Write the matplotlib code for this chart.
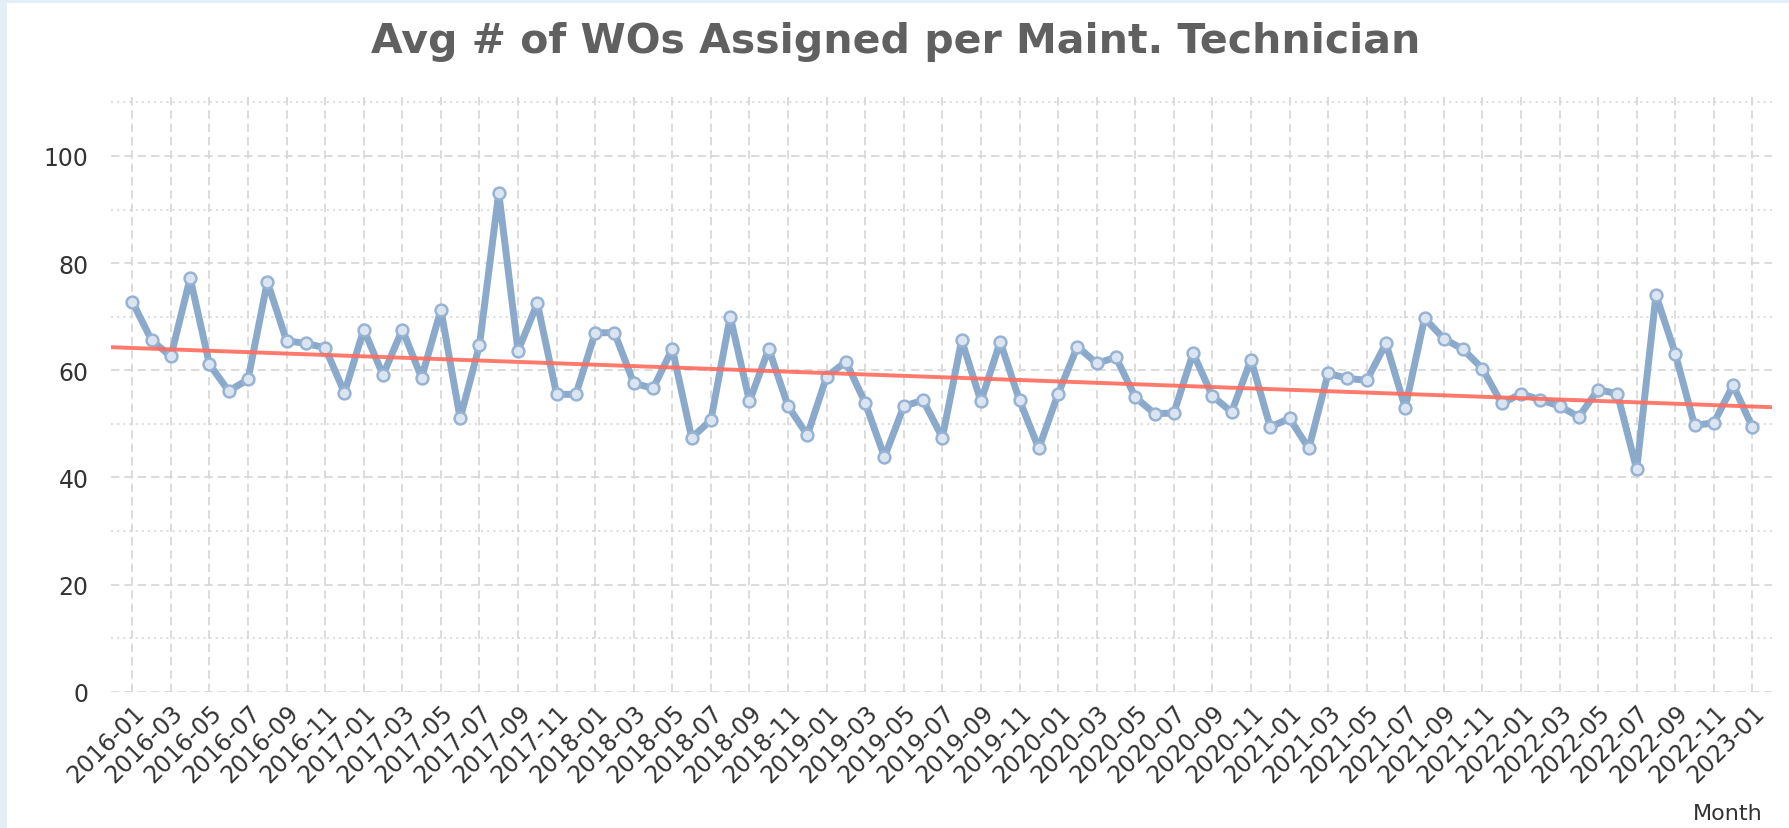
import numpy as np
import pandas as pd
import matplotlib
matplotlib.use("Agg")
import matplotlib.pyplot as plt
from matplotlib.patches import Rectangle

# data (monthly, 2016-01 .. 2023-01)
months = pd.period_range("2016-01", "2023-01", freq="M").strftime("%Y-%m").tolist()
avg_wos = [72.8, 65.6, 62.6, 77.2, 61.1, 56.1, 58.3, 76.5, 65.5, 65.0,
           64.2, 55.8, 67.6, 59.1, 67.6, 58.6, 71.3, 51.0, 64.7, 93.1,
           63.6, 72.5, 55.5, 55.5, 67.0, 67.0, 57.6, 56.6, 64.0, 47.4,
           50.7, 70.0, 54.2, 64.0, 53.3, 47.9, 58.8, 61.6, 53.9, 43.8,
           53.3, 54.4, 47.4, 65.6, 54.2, 65.3, 54.4, 45.4, 55.6, 64.4,
           61.3, 62.4, 55.0, 51.9, 52.0, 63.2, 55.2, 52.2, 62.0, 49.4,
           51.0, 45.4, 59.4, 58.5, 58.1, 65.0, 53.0, 69.7, 65.9, 63.9,
           60.3, 53.8, 55.6, 54.5, 53.3, 51.3, 56.4, 55.6, 41.5, 74.0,
           63.1, 49.7, 50.2, 57.2, 49.4]
# trend line, value at left and right edge of the plot
trend_ends = [64.3, 53.1]
y_ticks = [0, 20, 40, 60, 80, 100]

x = np.arange(len(months))
x_left, x_right = -1.12, 85.0

fig = plt.figure(figsize=(17.89, 8.29), dpi=100, facecolor="white")
# light blue frame on the left and top
fig.patches.append(Rectangle((0, 0), 7 / 1789, 1, transform=fig.transFigure,
                             facecolor="#e3eef6", edgecolor="none", zorder=-10))
fig.patches.append(Rectangle((0, 1 - 4 / 829), 1, 4 / 829, transform=fig.transFigure,
                             facecolor="#e3eef6", edgecolor="none", zorder=-10))

ax = fig.add_axes([110.7 / 1789, 1 - 692.7 / 829, (1771.7 - 110.7) / 1789, (692.7 - 98) / 829])
ax.set_facecolor("white")

# grid
grid_col = "#d6d6d6"
for yv in range(0, 111, 10):
    if yv % 20 == 0:
        ax.axhline(yv, color=grid_col, lw=1.2, ls=(0, (5, 3)), zorder=1)
    else:
        ax.axhline(yv, color=grid_col, lw=1.2, ls=(0, (1.2, 2.5)), zorder=1)
for xv in x[::2]:
    ax.axvline(xv, color=grid_col, lw=1.2, ls=(0, (5, 3)), zorder=1)

ax.plot(x, avg_wos, color="#8aa9cb", lw=5.0, zorder=3, solid_joinstyle="round",
        marker="o", ms=8.5, mfc="#dbe5f1", mec="#97b3d3", mew=1.8)
ax.plot([x_left, x_right], trend_ends, color="#ff6b5c", lw=2.8, alpha=0.9, zorder=4)

ax.set_xlim(x_left, x_right)
ax.set_ylim(0, 111)
ax.set_yticks(y_ticks)
ax.set_xticks(x[::2])
ax.set_xticklabels(months[::2], rotation=45, ha="right", va="top",
                   rotation_mode="anchor")
ax.tick_params(axis="both", length=0, labelsize=17, labelcolor="#333333")
ax.tick_params(axis="y", pad=16)
ax.tick_params(axis="x", pad=6)
for s in ax.spines.values():
    s.set_visible(False)

fig.text(896 / 1789, 1 - 42 / 829, "Avg # of WOs Assigned per Maint. Technician",
         ha="center", va="center", fontsize=29.5, fontweight="bold", color="#606060")
fig.text(1763 / 1789, 1 - 814 / 829, "Month", ha="right", va="center",
         fontsize=16, color="#333333")

fig.savefig("out.png", dpi=100, facecolor=fig.get_facecolor())
